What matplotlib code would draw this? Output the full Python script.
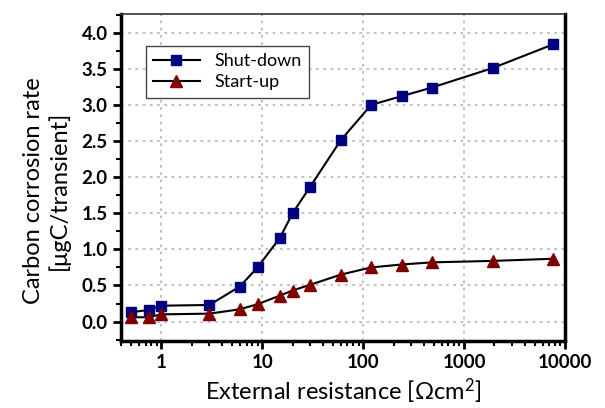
import numpy as np
import matplotlib.pyplot as plt
from matplotlib.ticker import MultipleLocator, LogLocator, FixedLocator

plt.rcParams['font.family'] = ['Lato', 'DejaVu Sans']
plt.rcParams['mathtext.default'] = 'regular'

# external resistance [Ohm cm^2]
resistance = [0.5, 0.75, 1, 3, 6, 9, 15, 20, 30, 60, 120, 240, 480, 1920, 7680]
# carbon corrosion per transient [ugC]
shut_down = [0.13, 0.16, 0.22, 0.23, 0.485, 0.75, 1.16, 1.50, 1.87, 2.51,
             3.00, 3.12, 3.24, 3.51, 3.84]
start_up = [0.06, 0.06, 0.10, 0.11, 0.17, 0.24, 0.36, 0.43, 0.51, 0.65,
            0.75, 0.79, 0.82, 0.84, 0.87]

x_ticks = [1, 10, 100, 1000, 10000]
x_tick_labels = ['1', '10', '100', '1000', '10000']

fig, ax = plt.subplots(figsize=(6.05, 4.08), dpi=100)
fig.subplots_adjust(left=0.2, right=0.934, top=0.966, bottom=0.164)

ax.plot(resistance, shut_down, color='black', lw=1.5, marker='s', ms=7,
        mfc='#000080', mec='#000080', label='Shut-down', zorder=3)
ax.plot(resistance, start_up, color='black', lw=1.5, marker='^', ms=8.5,
        mfc='#800000', mec='#800000', label='Start-up', zorder=3)

ax.set_xscale('log')
ax.set_xlim(0.4, 10000)
ax.set_ylim(-0.27, 4.26)

ax.xaxis.set_major_locator(FixedLocator(x_ticks))
ax.set_xticks(x_ticks, x_tick_labels)
ax.xaxis.set_minor_locator(LogLocator(base=10, subs=np.arange(2, 10), numticks=20))
ax.yaxis.set_major_locator(MultipleLocator(0.5))
ax.yaxis.set_minor_locator(MultipleLocator(0.25))
ax.yaxis.set_major_formatter(plt.FormatStrFormatter('%.1f'))

ax.grid(True, which='major', color='#bbbbbb', linestyle=(0, (1.5, 2.5)), lw=1.3)

for side in ['left', 'bottom', 'right']:
    ax.spines[side].set_linewidth(2.5)
ax.spines['top'].set_linewidth(1.2)
ax.spines['top'].set_color('#333333')

ax.tick_params(axis='both', which='major', direction='out', length=6, width=2,
               labelsize=13.5)
ax.tick_params(axis='both', which='minor', direction='out', length=3.5, width=1.5)
ax.tick_params(axis='y', which='both', right=False)
for lbl in ax.get_xticklabels() + ax.get_yticklabels():
    lbl.set_fontweight('bold')

ax.set_xlabel(r'External resistance [Ωcm$^2$]', fontsize=17, labelpad=4)
ax.set_ylabel('Carbon corrosion rate\n[μgC/transient]', fontsize=17)
ax.yaxis.set_label_coords(-0.115, 0.46)

leg = ax.legend(loc='upper left', bbox_to_anchor=(0.035, 0.93), fontsize=13,
                fancybox=False, framealpha=1, edgecolor='#444444',
                handlelength=2.6, borderpad=0.4, labelspacing=0.3)
leg.get_frame().set_linewidth(1.0)

plt.savefig('out.png', dpi=100)
